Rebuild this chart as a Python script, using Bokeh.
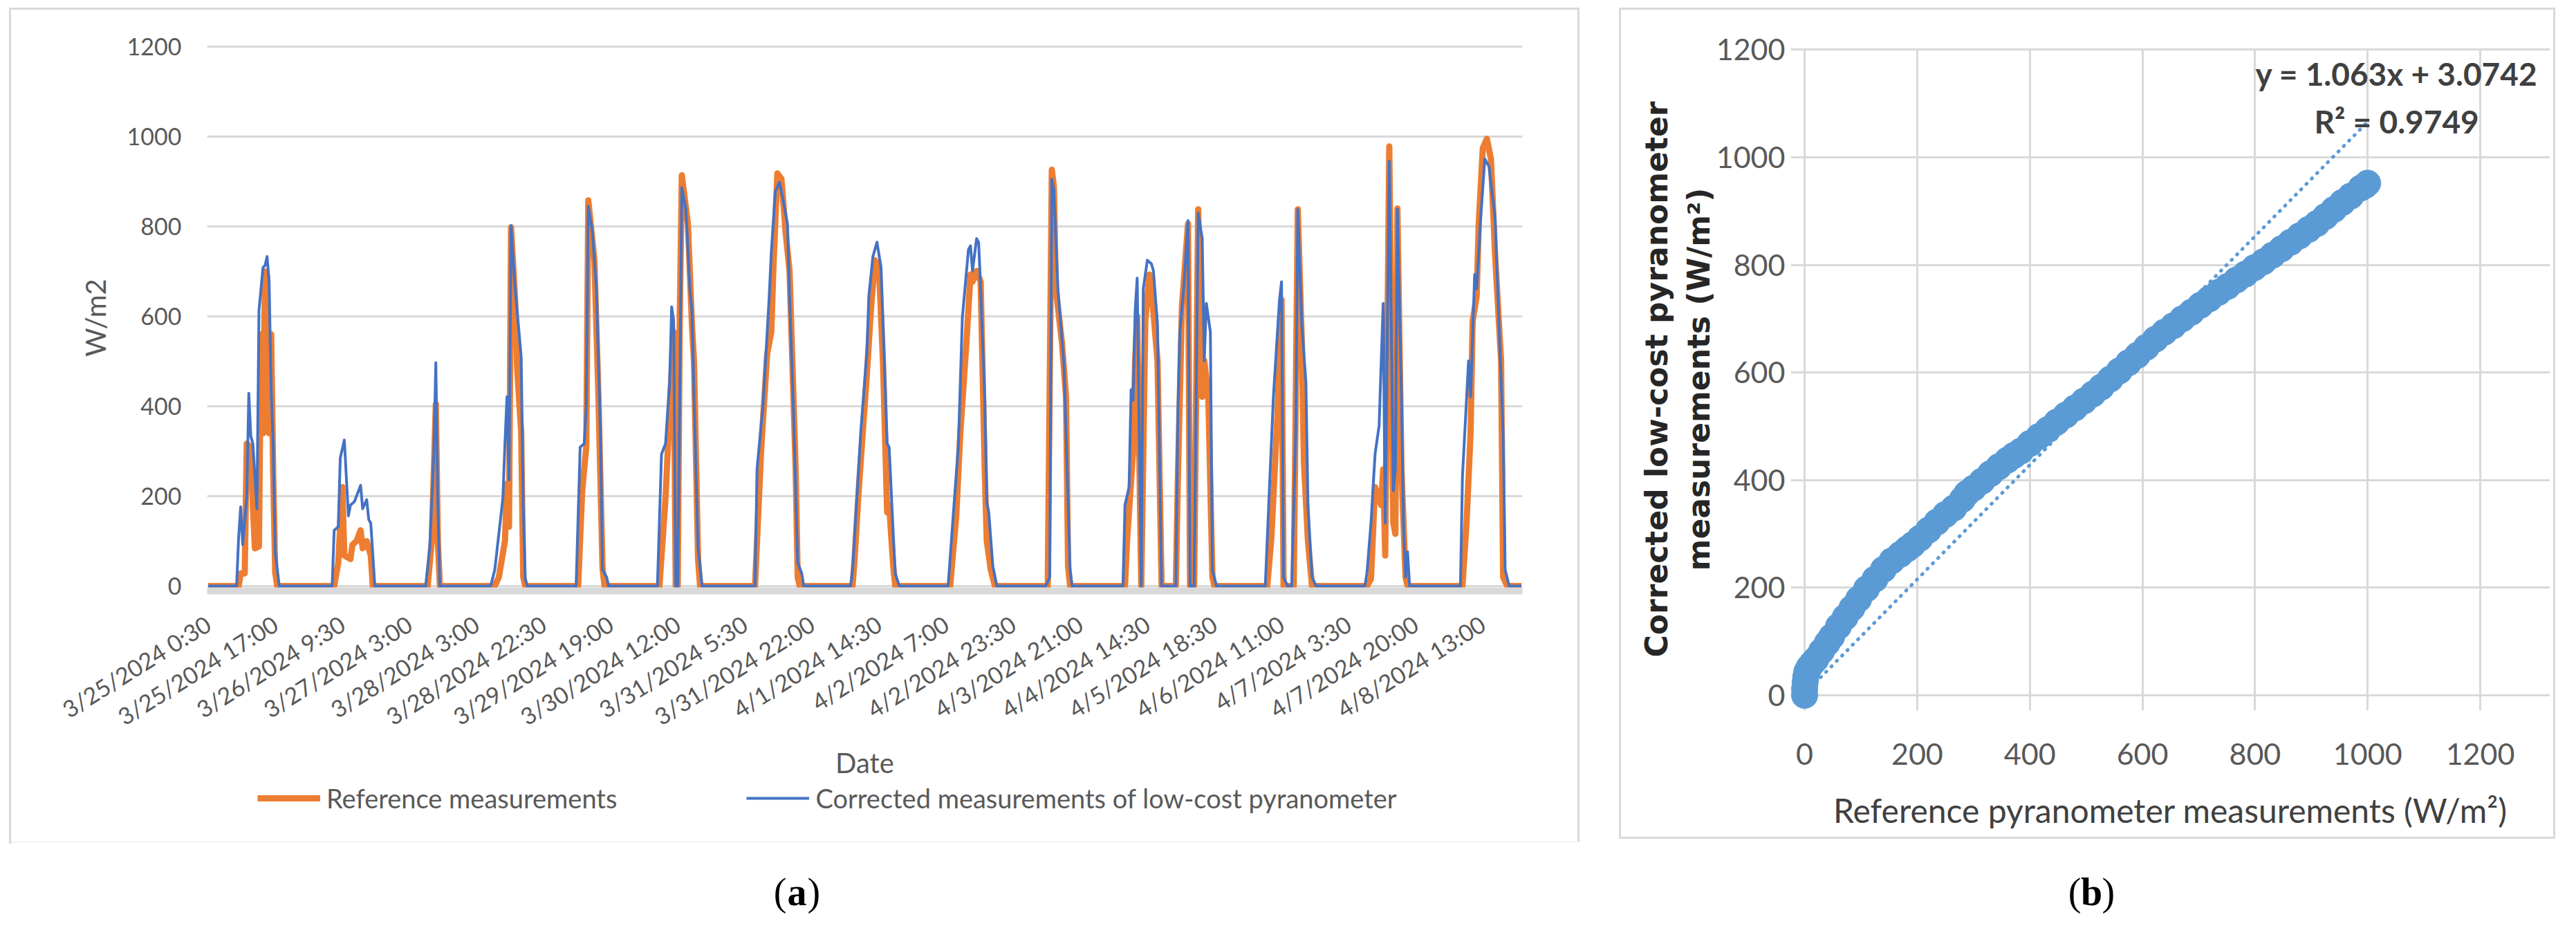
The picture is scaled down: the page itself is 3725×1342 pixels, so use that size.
import math
from bokeh.plotting import figure
from bokeh.models import Range1d, FixedTicker, Legend, LegendItem, Label, Spacer
from bokeh.layouts import row, column
from bokeh.embed import file_html
from bokeh.resources import INLINE

# ---------------- data: panel (a) time series (30-min sample index, W/m2) ----------------
tick_index = [0, 33, 66, 99, 132, 165, 198, 231, 264, 297, 330, 363, 396, 429, 462, 495, 528, 561, 594, 627]
tick_labels = ["3/25/2024 0:30", "3/25/2024 17:00", "3/26/2024 9:30", "3/27/2024 3:00", "3/28/2024 3:00",
               "3/28/2024 22:30", "3/29/2024 19:00", "3/30/2024 12:00", "3/31/2024 5:30", "3/31/2024 22:00",
               "4/1/2024 14:30", "4/2/2024 7:00", "4/2/2024 23:30", "4/3/2024 21:00", "4/4/2024 14:30",
               "4/5/2024 18:30", "4/6/2024 11:00", "4/7/2024 3:30", "4/7/2024 20:00", "4/8/2024 13:00"]
n_samples = 647

ref_idx = [0, 15, 16, 18, 19, 21, 22, 23, 25, 26, 27, 28, 29, 30, 31, 32, 33, 34,
           62, 64, 66, 67, 70, 71, 73, 75, 76, 78, 80, 81,
           108, 110, 112, 113, 114,
           141, 143, 146, 147, 148, 149, 151, 152, 154, 155, 156,
           182, 184, 186, 187, 190, 192, 194, 195,
           222, 225, 227, 229, 230, 231, 232, 233, 236, 238, 239, 241, 242,
           269, 272, 275, 277, 278, 280, 282, 284, 286, 289, 290, 291,
           317, 318, 320, 324, 326, 328, 330, 332, 334, 335, 337, 338,
           365, 368, 370, 373, 375, 376, 378, 380, 382, 383, 385, 387,
           413, 415, 416, 417, 420, 422, 423, 424,
           451, 452, 455, 456, 457, 459, 461, 463, 464, 467, 469,
           476, 477, 479, 482, 483, 485, 487, 489, 490, 492, 494, 495,
           521, 523, 526, 528, 529, 534, 536, 538, 539, 541, 543,
           570, 572, 574, 577, 578, 579, 581, 583, 584, 585, 587, 589, 590,
           617, 619, 621, 622, 624, 625, 627, 629, 631, 633, 636, 637, 639, 646]
ref_val = [0, 0, 28, 28, 317, 309, 180, 84, 88, 560, 340, 700, 690, 340, 560, 250, 30, 0,
           0, 52, 220, 68, 60, 92, 100, 124, 84, 100, 68, 0,
           0, 100, 405, 100, 0,
           0, 20, 100, 228, 132, 798, 637, 485, 341, 20, 0,
           0, 212, 309, 858, 725, 421, 40, 0,
           0, 196, 389, 565, 0, 0, 600, 914, 806, 580, 500, 60, 0,
           0, 301, 517, 565, 701, 918, 906, 790, 701, 260, 20, 0,
           0, 60, 212, 469, 613, 725, 709, 493, 164, 180, 44, 0,
           0, 156, 341, 541, 693, 677, 701, 677, 260, 100, 36, 0,
           0, 926, 890, 661, 541, 421, 44, 0,
           0, 100, 301, 501, 600, 0, 589, 693, 661, 501, 0,
           0, 236, 621, 806, 0, 0, 838, 421, 501, 421, 20, 0,
           0, 108, 381, 637, 0, 0, 838, 541, 277, 100, 0,
           0, 16, 220, 180, 260, 68, 978, 140, 116, 840, 260, 20, 0,
           0, 140, 341, 589, 645, 806, 974, 995, 950, 741, 501, 20, 0, 0]

cor_idx = [0, 14, 15, 16, 17, 19, 20, 21, 22, 24, 25, 27, 28, 29, 30, 31, 32, 33, 35,
           61, 62, 64, 65, 67, 69, 70, 72, 75, 76, 78, 79, 80, 82,
           107, 109, 111, 112, 113, 114,
           139, 141, 143, 145, 146, 147, 148, 149, 151, 152, 154, 155, 156, 157,
           181, 183, 185, 186, 187, 189, 191, 193, 194, 196, 197,
           221, 223, 225, 227, 228, 229, 230, 231, 232, 233, 235, 237, 238, 239, 241, 243,
           269, 270, 273, 276, 277, 279, 281, 282, 285, 286, 288, 290, 292, 293,
           316, 317, 319, 321, 324, 325, 327, 329, 331, 332, 334, 335, 337, 338, 340,
           364, 367, 369, 371, 374, 375, 376, 378, 379, 380, 382, 383, 384, 386, 388,
           412, 414, 415, 416, 418, 421, 422, 424, 425,
           450, 451, 453, 454, 455, 456, 457, 459, 460, 462, 464, 465, 467, 469,
           476, 477, 478, 480, 482, 483, 485, 487, 489, 490, 491, 493, 494, 496,
           520, 522, 524, 527, 528, 529, 531, 533, 535, 536, 538, 540, 541, 543, 545,
           569, 570, 572, 574, 576, 578, 579, 581, 583, 584, 585, 587, 588, 589, 590, 591,
           616, 617, 620, 621, 623, 624, 626, 628, 630, 633, 635, 637, 638, 640, 646]
cor_val = [0, 0, 108, 176, 92, 196, 429, 333, 317, 172, 613, 709, 713, 733, 677, 437, 317, 76, 0,
           0, 124, 132, 285, 325, 156, 180, 188, 224, 172, 192, 148, 140, 0,
           0, 84, 290, 497, 180, 0,
           0, 36, 116, 196, 317, 421, 236, 802, 661, 613, 509, 180, 16, 0,
           0, 309, 317, 397, 845, 790, 661, 341, 36, 20, 0,
           0, 293, 317, 453, 621, 590, 0, 0, 421, 886, 838, 660, 613, 421, 84, 0,
           0, 260, 405, 645, 741, 878, 898, 878, 806, 645, 381, 52, 28, 0,
           0, 36, 188, 341, 517, 645, 733, 765, 709, 581, 317, 309, 116, 28, 0,
           0, 188, 309, 597, 749, 757, 701, 773, 765, 661, 421, 188, 164, 44, 0,
           0, 20, 905, 880, 661, 493, 341, 36, 0,
           0, 180, 220, 437, 413, 613, 685, 0, 661, 725, 717, 701, 581, 0,
           0, 381, 565, 669, 813, 0, 0, 830, 773, 501, 629, 565, 36, 0,
           0, 212, 421, 637, 677, 20, 0, 0, 341, 838, 581, 453, 180, 20, 0,
           0, 28, 140, 293, 357, 629, 140, 945, 212, 260, 838, 421, 140, 20, 76, 0,
           0, 244, 501, 421, 693, 661, 822, 950, 934, 822, 581, 341, 36, 0, 0]

y_ticks_a = [0, 200, 400, 600, 800, 1000, 1200]
series_names = ["Reference measurements", "Corrected measurements of low-cost pyranometer"]

# ---------------- data: panel (b) scatter (W/m2) ----------------
sc_ref = [0, 0, 1, 2, 4, 8, 14, 20, 30, 40, 48, 60, 72, 84, 96, 110, 125, 140, 155, 170, 182, 192,
          205, 220, 235, 250, 265, 280, 288, 300, 315, 330, 345, 360, 372, 384, 400, 416, 432, 448,
          464, 480, 496, 512, 527, 543, 559, 575, 591, 607, 623, 639, 655, 671, 687, 703, 719, 735,
          751, 767, 783, 799, 815, 831, 847, 863, 879, 895, 910, 925, 940, 955, 970, 988, 996, 1000]
sc_cor = [0, 12, 24, 34, 44, 52, 60, 67, 82, 97, 109, 128, 145, 162, 179, 198, 216, 234, 250, 262, 272, 280,
          292, 307, 322, 336, 348, 364, 375, 385, 398, 412, 425, 437, 446, 454, 468, 481, 494, 508,
          521, 534, 547, 560, 573, 588, 603, 618, 632, 647, 662, 675, 687, 700, 712, 725, 737, 749,
          760, 772, 783, 795, 806, 818, 830, 842, 854, 866, 877, 890, 903, 916, 928, 943, 948, 952]
trend_slope = 1.063
trend_intercept = 3.0742
r_squared = 0.9749
axis_ticks_b = [0, 200, 400, 600, 800, 1000, 1200]

# ---------------- styles ----------------
FONT = "Lato"
GRID = "#D9D9D9"
TXT = "#595959"
ORANGE = "#ED7D31"
BLUE = "#4472C4"
SCAT = "#5B9BD5"
BOX = {"outline": "3px solid #D9D9D9"}
NAN = float("nan")

# ---------------- panel (a) ----------------
pa = figure(frame_width=1902, frame_height=790,
            x_range=Range1d(-0.5, n_samples - 0.5), y_range=Range1d(-10.8, 1204.6),
            output_backend="svg", toolbar_location=None,
            min_border_left=283, min_border_right=80, min_border_top=50, min_border_bottom=268,
            outline_line_color=None, background_fill_color="white", border_fill_color="white")
pa.xgrid.visible = False
pa.ygrid.grid_line_color = GRID
pa.ygrid.grid_line_width = 3

pa.line(ref_idx, ref_val, line_color=ORANGE, line_width=9, line_join="round")
pa.line(cor_idx, cor_val, line_color=BLUE, line_width=4, line_join="round")

pa.yaxis.ticker = FixedTicker(ticks=y_ticks_a)
pa.yaxis.axis_line_color = None
pa.yaxis.major_tick_line_color = None
pa.yaxis.minor_tick_line_color = None
pa.yaxis.major_tick_out = 0
pa.yaxis.major_label_standoff = 37
pa.yaxis.major_label_text_font = FONT
pa.yaxis.major_label_text_font_size = "34px"
pa.yaxis.major_label_text_color = TXT
pa.yaxis.axis_label = "W/m2"
pa.yaxis.axis_label_text_font = FONT
pa.yaxis.axis_label_text_font_size = "40px"
pa.yaxis.axis_label_text_font_style = "normal"
pa.yaxis.axis_label_text_color = TXT
pa.yaxis.axis_label_standoff = 19

pa.xaxis.ticker = FixedTicker(ticks=tick_index)
pa.xaxis.major_label_overrides = {t: s for t, s in zip(tick_index, tick_labels)}
pa.xaxis.major_label_orientation = math.radians(32)
pa.xaxis.axis_line_color = GRID
pa.xaxis.axis_line_width = 10
pa.xaxis.major_tick_line_color = None
pa.xaxis.minor_tick_line_color = None
pa.xaxis.major_tick_out = 0
pa.xaxis.major_label_standoff = 44
pa.xaxis.major_label_text_font = FONT
pa.xaxis.major_label_text_font_size = "34px"
pa.xaxis.major_label_text_color = TXT
pa.xaxis.axis_label = "Date"
pa.xaxis.axis_label_text_font = FONT
pa.xaxis.axis_label_text_font_size = "40px"
pa.xaxis.axis_label_text_font_style = "normal"
pa.xaxis.axis_label_text_color = TXT
pa.xaxis.axis_label_standoff = 2

# legend strip of panel (a)
lg = figure(frame_width=1902 + 283 + 80, frame_height=88,
            x_range=Range1d(0, 1), y_range=Range1d(0, 1),
            output_backend="svg", toolbar_location=None, min_border=0,
            x_axis_location=None, y_axis_location=None, outline_line_color=None,
            background_fill_color="white", border_fill_color="white")
lg.grid.visible = False
g_ref = lg.line([NAN, NAN], [NAN, NAN], line_color=ORANGE, line_width=9)
g_cor = lg.line([NAN, NAN], [NAN, NAN], line_color=BLUE, line_width=4)
leg = Legend(items=[LegendItem(label=series_names[0], renderers=[g_ref]),
                    LegendItem(label=series_names[1], renderers=[g_cor])],
             orientation="horizontal", location=(356, 40), spacing=187,
             glyph_width=91, glyph_height=24, label_standoff=9, padding=0, margin=0,
             border_line_color=None, background_fill_alpha=0,
             label_text_font=FONT, label_text_font_size="38px", label_text_color=TXT)
lg.add_layout(leg)

panel_a = column(pa, lg, styles=BOX)

# ---------------- panel (b) ----------------
pb = figure(frame_width=1098, frame_height=958,
            x_range=Range1d(-24.6, 1324.0), y_range=Range1d(-28.3, 1203.2),
            output_backend="svg", toolbar_location=None,
            min_border_left=245, min_border_right=5, min_border_top=55, min_border_bottom=183,
            outline_line_color=None, background_fill_color="white", border_fill_color="white",
            styles=BOX)
pb.xgrid.bounds = (0, 1200)
pb.ygrid.bounds = (0, 1200)
pb.grid.grid_line_color = GRID
pb.grid.grid_line_width = 3

pb.scatter(sc_ref, sc_cor, size=38, fill_color=SCAT, line_color=SCAT)
tx = [min(sc_ref), max(sc_ref)]
ty = [trend_slope * v + trend_intercept for v in tx]
pb.line(tx, ty, line_color=SCAT, line_width=5, line_dash="1 10", line_cap="round")

for ax in (pb.xaxis, pb.yaxis):
    ax.ticker = FixedTicker(ticks=axis_ticks_b)
    ax.axis_line_color = None
    ax.major_tick_line_color = None
    ax.minor_tick_line_color = None
    ax.major_tick_out = 0
    ax.major_label_text_font = FONT
    ax.major_label_text_font_size = "43px"
    ax.major_label_text_color = TXT
pb.yaxis.major_label_standoff = 8
pb.xaxis.major_label_standoff = 47

pb.xaxis.axis_label = "Reference pyranometer measurements (W/m\u00b2)"
pb.xaxis.axis_label_text_font = FONT
pb.xaxis.axis_label_text_font_size = "48px"
pb.xaxis.axis_label_text_font_style = "normal"
pb.xaxis.axis_label_text_color = "#404040"
pb.xaxis.axis_label_standoff = 34

pb.yaxis.axis_label = "Corrected low-cost pyranometer\nmeasurements (W/m\u00b2)"
pb.yaxis.axis_label_text_font = "DejaVu Sans"
pb.yaxis.axis_label_text_font_size = "44px"
pb.yaxis.axis_label_text_font_style = "bold"
pb.yaxis.axis_label_text_color = "#262626"
pb.yaxis.axis_label_standoff = -3

eq1 = "y = %.3fx + %.4f" % (trend_slope, trend_intercept)
eq2 = "R\u00b2 = %.4f" % r_squared
pb.add_layout(Label(x=1051.5, y=1155.5, text=eq1, text_align="center", text_baseline="middle",
                    text_font=FONT, text_font_size="46px", text_font_style="bold", text_color="#404040"))
pb.add_layout(Label(x=1051.5, y=1067, text=eq2, text_align="center", text_baseline="middle",
                    text_font=FONT, text_font_size="46px", text_font_style="bold", text_color="#404040"))

# ---------------- captions ----------------
cap = figure(frame_width=3690, frame_height=110, x_range=Range1d(0, 3690), y_range=Range1d(0, 110),
             output_backend="svg", toolbar_location=None, min_border=0,
             x_axis_location=None, y_axis_location=None, outline_line_color=None)
cap.grid.visible = False
for cx, letter in ((1136, "a"), (3008, "b")):
    cap.add_layout(Label(x=cx - 15, y=38, text="(", text_align="right", text_baseline="middle",
                         text_font="Liberation Serif", text_font_size="56px", text_color="black"))
    cap.add_layout(Label(x=cx, y=38, text=letter, text_align="center", text_baseline="middle",
                         text_font="Liberation Serif", text_font_size="56px", text_font_style="bold",
                         text_color="black"))
    cap.add_layout(Label(x=cx + 15, y=38, text=")", text_align="left", text_baseline="middle",
                         text_font="Liberation Serif", text_font_size="56px", text_color="black"))

layout = column(Spacer(height=14, width=10),
                row(Spacer(width=16, height=10), panel_a, Spacer(width=63, height=10), pb),
                row(Spacer(width=16, height=10), cap))

open("out.html", "w").write(file_html(layout, INLINE))
